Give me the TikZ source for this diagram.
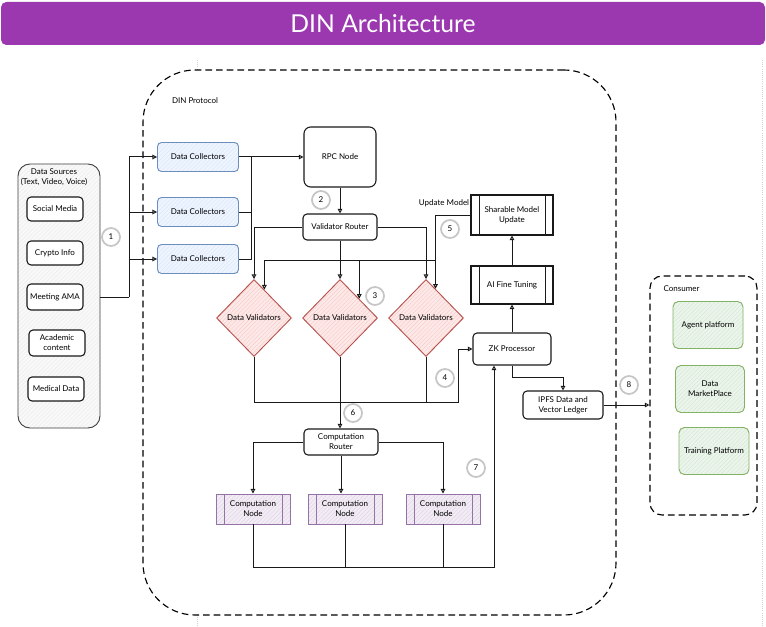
\documentclass[tikz,border=0pt]{standalone}
\usepackage{fontspec}
\setmainfont{Lato}
\usetikzlibrary{shapes.geometric,arrows.meta,patterns.meta,calc}
\definecolor{ttl}{RGB}{155,56,175}
\definecolor{dcb}{HTML}{6C8EBF}
\definecolor{dcf}{HTML}{DAE8FC}
\definecolor{dvb}{HTML}{B85450}
\definecolor{dvf}{HTML}{F8CECC}
\definecolor{cnb}{HTML}{9673A6}
\definecolor{cnf}{HTML}{E1D5E7}
\definecolor{grb}{HTML}{82B366}
\definecolor{grf}{HTML}{D5E8D4}
\begin{document}
\begin{tikzpicture}[x=0.75pt,y=-0.75pt,
  every node/.style={font=\fontsize{6}{7.5}\selectfont, align=center, inner sep=1pt},
  sz/.style 2 args={minimum width=#1*0.75pt, minimum height=#2*0.75pt},
  hatch/.style={preaction={fill=#1!45}, preaction={pattern={Lines[angle=45,distance=2.2pt,line width=0.35pt]},pattern color=#1}},
  plain/.style={draw=black!90, line width=0.8pt, rounded corners=3pt, fill=white},
  dcbox/.style={draw=dcb, line width=0.7pt, rounded corners=3pt, hatch=dcf},
  dvbox/.style={diamond, draw=dvb, line width=0.7pt, hatch=dvf, sz={75}{77}, inner sep=0pt},
  cnbox/.style={draw=cnb, line width=0.7pt, hatch=cnf, proc=cnb},
  grbox/.style={draw=grb, line width=0.7pt, rounded corners=4pt, hatch=grf},
  dsbox/.style={draw=black!75, line width=0.7pt, rounded corners=9pt, preaction={fill=gray!5}, preaction={pattern={Lines[angle=45,distance=2.2pt,line width=0.35pt]},pattern color=gray!15}},
  pbox/.style={draw=black!90, line width=0.8pt, fill=white, proc=black!90},
  proc/.style={path picture={\draw[#1, line width=0.7pt]
      ([xshift=6pt]path picture bounding box.north west) -- ([xshift=6pt]path picture bounding box.south west)
      ([xshift=-6pt]path picture bounding box.north east) -- ([xshift=-6pt]path picture bounding box.south east);}},
  contbox/.style={draw=black, dash pattern=on 5pt off 3pt, line width=0.85pt, fill=white},
  numc/.style={circle, draw=gray!45, line width=1.3pt, minimum size=13.5pt, inner sep=0pt, fill=white},
  arr/.style={-{Triangle[open,length=3.5pt,width=3.5pt]}, line width=0.75pt, black!90},
  ln/.style={line width=0.75pt, black!90}
]
\useasboundingbox (0,0) rectangle (766,627);
\fill[white] (0,0) rectangle (766,627);
% title
\node (title) [fill=ttl, rounded corners=4pt, sz={764}{43}, text=white, font=\fontsize{18.5}{20}\selectfont] at (383,23.5) {DIN Architecture};
% faint page lines
\coordinate (pa) at (197,60); \coordinate (pb) at (197,627);
\coordinate (pc) at (762,60); \coordinate (pd) at (762,627);
\draw[gray!35, densely dotted, line width=0.6pt] (pa) -- (pb);
\draw[gray!35, densely dotted, line width=0.6pt] (pc) -- (pd);
% containers
\node (din) [contbox, rounded corners=39pt, sz={473}{545}] at (379.5,342.5) {};
\node (dinlbl) at (195,101) {DIN Protocol};
\node (cons) [contbox, rounded corners=9pt, sz={107}{239}] at (703.5,395.5) {};
\node (conslbl) [anchor=west] at (662,289) {Consumer};
% data sources
\node (ds) [dsbox, sz={82}{264}] at (59,296) {};
\node (dslbl) at (54,177) {Data Sources\\(Text, Video, Voice)};
\node (sm) [plain, sz={56}{24}] at (55,209) {Social Media};
\node (ci) [plain, sz={56}{24}] at (55,253) {Crypto Info};
\node (ama) [plain, sz={56}{26}] at (55,297) {Meeting AMA};
\node (ac) [plain, sz={56}{26}] at (57,343) {Academic\\content};
\node (md) [plain, sz={56}{24}] at (56,389) {Medical Data};
% collectors
\node (dc1) [dcbox, sz={81}{29}] at (198,157) {Data Collectors};
\node (dc2) [dcbox, sz={81}{29}] at (198,212) {Data Collectors};
\node (dc3) [dcbox, sz={81}{29}] at (198,259) {Data Collectors};
% rpc / router
\node (rpc) [plain, rounded corners=5pt, sz={72}{60}] at (340,157) {RPC Node};
\node (vr) [plain, sz={74}{26}] at (340,227) {Validator Router};
% validators
\node (dv1) [dvbox] at (254,318) {Data Validators};
\node (dv2) [dvbox] at (340,318) {Data Validators};
\node (dv3) [dvbox] at (426,318) {Data Validators};
% right column
\node (smu) [pbox, sz={82}{40}] at (512,215) {Sharable Model\\Update};
\node (aft) [pbox, sz={82}{38}] at (512,285) {AI Fine Tuning};
\node (zk) [plain, sz={78}{32}] at (512,349) {ZK Processor};
\node (ipfs) [plain, sz={80}{28}] at (563,405) {IPFS Data and\\Vector Ledger};
\node (uml) at (444,203) {Update Model};
% computation
\node (cr) [plain, sz={74}{26}] at (341,442) {Computation\\Router};
\node (cn1) [cnbox, sz={74}{30}] at (253,509) {Computation\\Node};
\node (cn2) [cnbox, sz={74}{30}] at (345,509) {Computation\\Node};
\node (cn3) [cnbox, sz={74}{30}] at (443,509) {Computation\\Node};
% consumers
\node (ap) [grbox, sz={70}{47}] at (708,325) {Agent platform};
\node (dmp) [grbox, sz={69}{47}] at (710,389) {Data\\MarketPlace};
\node (tp) [grbox, sz={70}{47}] at (714,451) {Training Platform};

% connectors
\coordinate (j1) at (129,297);
\draw[ln] (ds.east |- ama) -- (j1);
\draw[arr] (j1) |- (dc1.west);
\draw[arr] (j1) |- (dc2.west);
\draw[arr] (j1) |- (dc3.west);
\coordinate (j2) at (251,157);
\draw[arr] (dc1.east) -- (rpc.west);
\draw[ln] (dc2.east) -| (j2);
\draw[ln] (dc3.east) -| (j2);
\draw[arr] (rpc.south) -- (vr.north);
\draw[arr] (vr.west) -| (dv1.north);
\draw[arr] (vr.south) -- (dv2.north);
\draw[arr] (vr.east) -| (dv3.north);
\draw[arr] (smu.west) -| (dv3.72);
\coordinate (h5) at (0,260);
\draw[arr] (dv3.72 |- h5) -| (dv1.70);
\draw[arr] (dv2.45 |- h5) -- (dv2.45);
\coordinate (b4) at (458,402);
\draw[arr] (dv1.south) |- (b4) |- (zk.west);
\draw[ln] (dv3.south) -- (dv3.south |- b4);
\draw[arr] (dv2.south) -- (dv2.south |- cr.north);
\draw[arr] (cr.west) -| (cn1.north);
\draw[arr] (cr.south) -- (cr.south |- cn2.north);
\draw[arr] (cr.east) -| (cn3.north);
\coordinate (b7) at (494,567);
\draw[arr] (cn1.south) |- (b7) -- (b7 |- zk.south);
\draw[ln] (cn2.south) -- (cn2.south |- b7);
\draw[ln] (cn3.south) -- (cn3.south |- b7);
\draw[arr] (zk.north) -- (aft.south);
\draw[arr] (aft.north) -- (smu.south);
\draw[arr] (zk.south) -- ++(0,12) -| (ipfs.north);
\draw[arr] (ipfs.east) -- (ipfs.east -| cons.west);
% step numbers
\node (n1) [numc] at (111,237) {1};
\node (n2) [numc] at (321,200) {2};
\node (n3) [numc] at (375,296) {3};
\node (n4) [numc] at (445,378) {4};
\node (n5) [numc] at (450,229) {5};
\node (n6) [numc] at (353,413) {6};
\node (n7) [numc] at (476,468) {7};
\node (n8) [numc] at (629,385) {8};
\end{tikzpicture}
\end{document}
